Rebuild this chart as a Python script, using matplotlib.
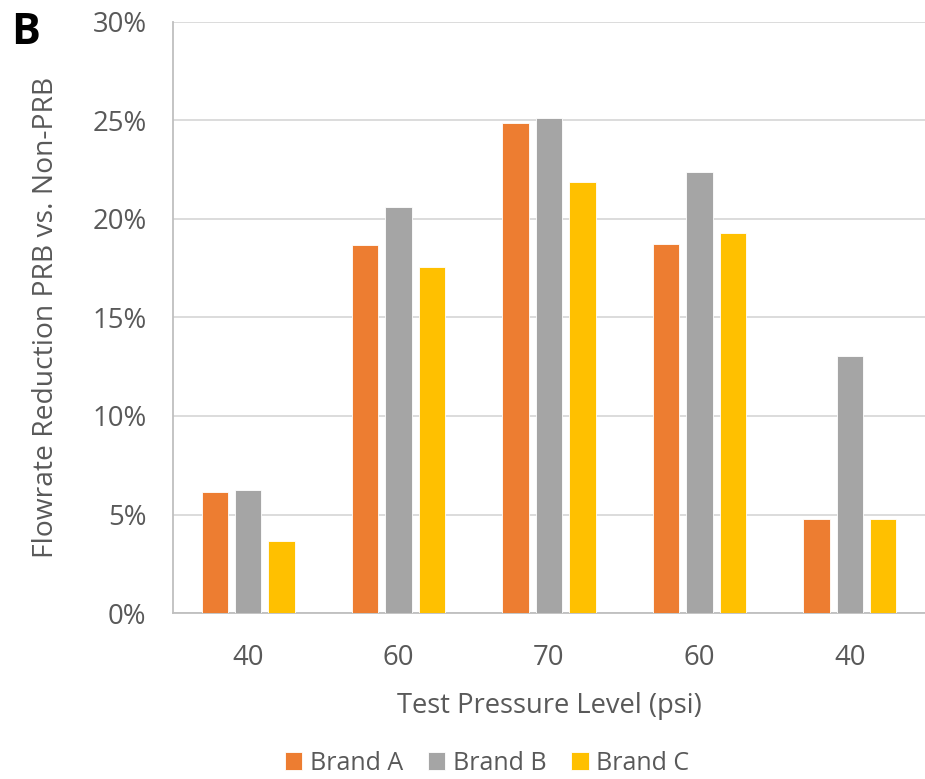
import matplotlib.pyplot as plt
import numpy as np

categories = ["40", "60", "70", "60", "40"]
brand_a = [6.12, 18.68, 24.85, 18.74, 4.76]
brand_b = [6.22, 20.61, 25.13, 22.39, 13.04]
brand_c = [3.63, 17.54, 21.86, 19.27, 4.75]
series = ["Brand A", "Brand B", "Brand C"]
colors = ["#ED7D31", "#A5A5A5", "#FFC000"]

plt.rcParams['font.family'] = ['Open Sans', 'DejaVu Sans']
text_color = "#595959"

fig = plt.figure(figsize=(9.25, 7.79), dpi=100)
ax = fig.add_axes([173 / 925, 1 - 613 / 779, 752 / 925, 591 / 779])

x = np.arange(len(categories))
width = 0.175
step = 0.222
for i, (vals, name, col) in enumerate(zip([brand_a, brand_b, brand_c], series, colors)):
    ax.bar(x + (i - 1) * step, vals, width, color=col, label=name,
           edgecolor="white", linewidth=0.6, zorder=3)

ax.set_ylim(0, 30)
ax.set_xlim(-0.5, len(categories) - 0.5)
ax.set_yticks(range(0, 31, 5))
ax.set_yticklabels([f"{v}%" for v in range(0, 31, 5)])
ax.set_xticks(x)
ax.set_xticklabels(categories)
ax.tick_params(axis="both", length=0, labelsize=19.8, colors=text_color)
ax.tick_params(axis="y", pad=19)
ax.tick_params(axis="x", pad=22)
ax.grid(axis="y", color="#D9D9D9", linewidth=1.3, zorder=0)

for s in ["top", "right"]:
    ax.spines[s].set_visible(False)
for s in ["left", "bottom"]:
    ax.spines[s].set_color("#BFBFBF")
    ax.spines[s].set_linewidth(1.3)

ax.set_ylabel("Flowrate Reduction PRB vs. Non-PRB", fontsize=20.3, color=text_color, labelpad=23)
ax.set_xlabel("Test Pressure Level (psi)", fontsize=19.7, color=text_color, labelpad=15)

fig.text(11 / 925, 1 - 33 / 779, "B", fontsize=31, fontweight="bold", color="black", va="center")

fig.legend(loc="center", bbox_to_anchor=(487 / 925, 1 - 763 / 779), ncol=3, frameon=False,
           fontsize=18, labelcolor=text_color, handlelength=0.7, handleheight=0.7,
           handletextpad=0.3, columnspacing=1.0)

fig.savefig("out.png", dpi=100)
